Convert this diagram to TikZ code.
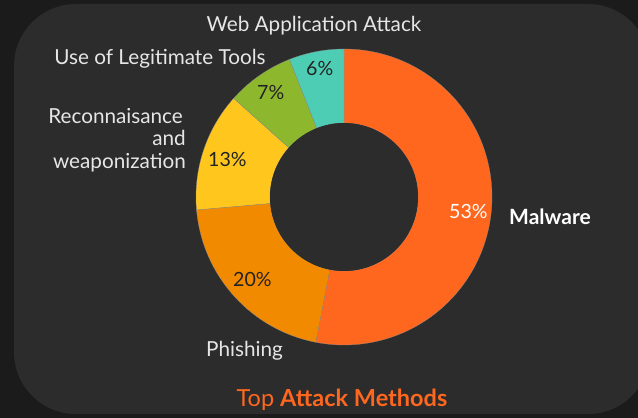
\documentclass[tikz,border=0pt]{standalone}
\usepackage{fontspec}
\setmainfont{Lato}
\definecolor{bgout}{HTML}{1B1B1B}
\definecolor{panel}{HTML}{2C2C2C}
\definecolor{cmal}{HTML}{FF671F}
\definecolor{cphi}{HTML}{F28A00}
\definecolor{crec}{HTML}{FFC61E}
\definecolor{cleg}{HTML}{8DB82D}
\definecolor{cweb}{HTML}{4ECDB5}
\definecolor{ltxt}{HTML}{E6E6E6}
\definecolor{dtxt}{HTML}{232323}
\begin{document}
\begin{tikzpicture}[x=1pt,y=1pt,
  lbl/.style={inner sep=0pt,text=ltxt,font=\fontsize{20.7}{24}\selectfont},
  pct/.style={inner sep=0pt,text=dtxt,font=\fontsize{19.6}{22}\selectfont},
  seg/.style={draw=black!45,line width=0.25pt}]
\fill[bgout] (0,0) rectangle (638,418);
\useasboundingbox (0,0) rectangle (638,418);
\fill[panel,rounded corners=62pt] (14,4) rectangle (650,414);
\begin{scope}[shift={(344,221)}]
  \def\R{148}\def\r{74}
  \fill[cmal,seg] (90:\R) arc[start angle=90,end angle=-101,radius=\R] -- (-101:\r) arc[start angle=-101,end angle=90,radius=\r] -- cycle;
  \fill[cphi,seg] (-101:\R) arc[start angle=-101,end angle=-175,radius=\R] -- (-175:\r) arc[start angle=-175,end angle=-101,radius=\r] -- cycle;
  \fill[crec,seg] (-175:\R) arc[start angle=-175,end angle=-221.8,radius=\R] -- (-221.8:\r) arc[start angle=-221.8,end angle=-175,radius=\r] -- cycle;
  \fill[cleg,seg] (-221.8:\R) arc[start angle=-221.8,end angle=-248.4,radius=\R] -- (-248.4:\r) arc[start angle=-248.4,end angle=-221.8,radius=\r] -- cycle;
  \fill[cweb,seg] (-248.4:\R) arc[start angle=-248.4,end angle=-270,radius=\R] -- (-270:\r) arc[start angle=-270,end angle=-248.4,radius=\r] -- cycle;
  \fill[panel] (0,0) circle[radius=\r];
\end{scope}
\node[lbl,anchor=base] (web) at (314,386) {Web Application Attack};
\node[lbl,anchor=base] (leg) at (160,353) {Use of Legitimate Tools};
\node[lbl,anchor=base east] (rec1) at (183,294) {Reconnaisance};
\node[lbl,anchor=base east] (rec2) at (186,272) {and};
\node[lbl,anchor=base east] (rec3) at (186,249) {weaponization};
\node[lbl,anchor=base west] (phi) at (206,61) {Phishing};
\node[lbl,anchor=base west,font=\fontsize{21}{24}\selectfont\bfseries,text=white] (mal) at (509,193) {Malware};
\node[pct,anchor=base west] (p13) at (208,251) {13\%};
\node[pct,anchor=base west] (p7) at (257,318) {7\%};
\node[pct,anchor=base west] (p6) at (306,342) {6\%};
\node[pct,anchor=base west] (p20) at (233,131) {20\%};
\node[pct,anchor=base west,text=white] (p53) at (449,199) {53\%};
\node[inner sep=0pt,anchor=base,text=cmal,font=\fontsize{23.5}{26}\selectfont] (title) at (342,11) {Top \textbf{Attack Methods}};
\end{tikzpicture}
\end{document}
